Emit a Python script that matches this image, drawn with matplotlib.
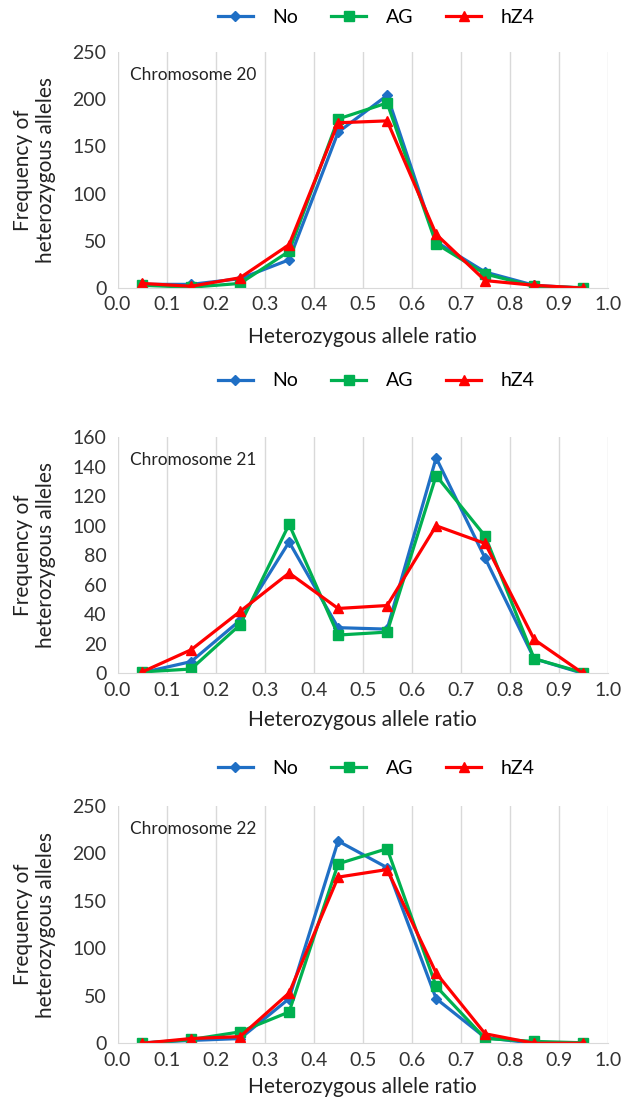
import numpy as np
import matplotlib
matplotlib.use("Agg")
import matplotlib.pyplot as plt

plt.rcParams['font.family'] = ['Lato', 'DejaVu Sans']

x = [0.05, 0.15, 0.25, 0.35, 0.45, 0.55, 0.65, 0.75, 0.85, 0.95]
series_names = ["No", "AG", "hZ4"]

chr20_no = [4, 4, 10, 30, 165, 204, 49, 17, 3, 0]
chr20_ag = [3, 1, 5, 39, 179, 196, 47, 15, 2, 0.5]
chr20_hz4 = [5, 2, 11, 46, 175, 177, 57, 8, 3, 0]

chr21_no = [0.5, 8, 36, 89, 31, 30, 146, 78, 10, 0]
chr21_ag = [1, 3, 33, 101, 26, 28, 134, 93, 10, 0.5]
chr21_hz4 = [1, 16, 42, 68, 44, 46, 100, 88, 23, 0]

chr22_no = [0.5, 3, 5, 47, 213, 185, 47, 6, 0, 0]
chr22_ag = [0, 4, 12, 33, 189, 205, 60, 5, 2, 0.5]
chr22_hz4 = [0, 5, 7, 53, 175, 183, 74, 10, 0, 0]

panels = [
    ("Chromosome 20", [chr20_no, chr20_ag, chr20_hz4], 250, 50),
    ("Chromosome 21", [chr21_no, chr21_ag, chr21_hz4], 160, 20),
    ("Chromosome 22", [chr22_no, chr22_ag, chr22_hz4], 250, 50),
]

colors = ["#1F6FC5", "#00B050", "#FF0000"]
markers = ["D", "s", "^"]
msizes = [5.5, 7, 7.5]

# axes boxes [left, bottom, width, height] and legend y positions
boxes = [
    [0.189, 0.739, 0.788, 0.214],
    [0.189, 0.390, 0.788, 0.214],
    [0.189, 0.055, 0.788, 0.215],
]
legend_y = [0.984, 0.655, 0.304]
xlabel_pads = [10, 8, 6]

fig = plt.figure(figsize=(6.22, 11.04), dpi=100)

for (title, data, ymax, ystep), box, ly, xpad in zip(panels, boxes, legend_y, xlabel_pads):
    ax = fig.add_axes(box)
    handles = []
    for vals, c, m, ms, name in zip(data, colors, markers, msizes, series_names):
        h, = ax.plot(x, vals, color=c, marker=m, markersize=ms, linewidth=2.3, label=name)
        handles.append(h)
    ax.set_xlim(0, 1.0)
    ax.set_ylim(0, ymax)
    ax.set_xticks(np.arange(0, 1.01, 0.1))
    ax.set_xticklabels([f"{v:.1f}" for v in np.arange(0, 1.01, 0.1)])
    ax.set_yticks(np.arange(0, ymax + 1, ystep))
    ax.tick_params(axis='both', length=0, labelsize=14, colors='#333333')
    ax.tick_params(axis='x', pad=6)
    ax.tick_params(axis='y', pad=8)
    ax.grid(axis='x', color='#D9D9D9', linewidth=1)
    ax.set_axisbelow(True)
    for s in ['top', 'right', 'left']:
        ax.spines[s].set_visible(False)
    ax.spines['bottom'].set_color('#D9D9D9')
    ax.set_xlabel("Heterozygous allele ratio", fontsize=15, color='#222222', labelpad=xpad)
    ax.set_ylabel("Frequency of\nheterozygous alleles", fontsize=15, color='#222222', labelpad=12)
    ax.text(0.026, 0.903, title, transform=ax.transAxes, fontsize=12.4,
            color='#222222', va='center')
    fig.legend(handles=handles, loc='center', bbox_to_anchor=(0.605, ly), ncol=3,
               frameon=False, fontsize=14, handlelength=1.8, handletextpad=1.0,
               columnspacing=1.7)

fig.savefig("out.png", dpi=100)
